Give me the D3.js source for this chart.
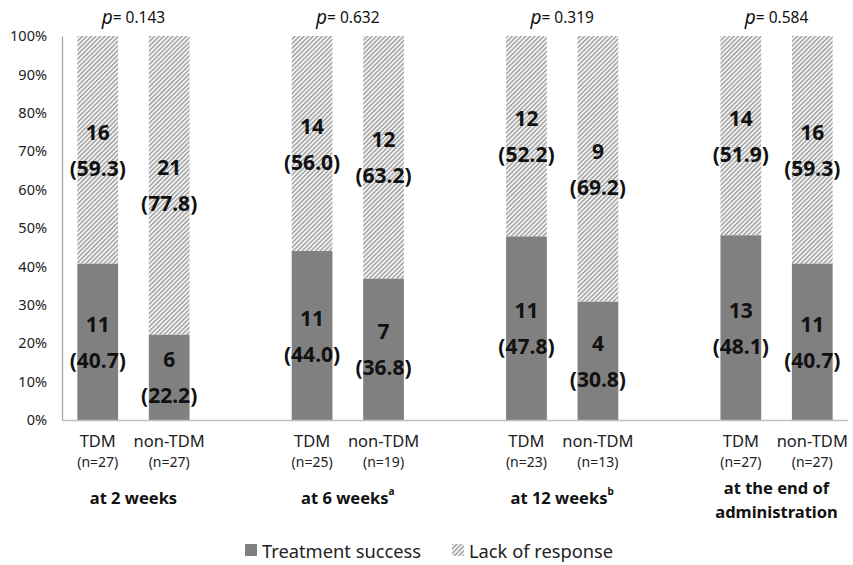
<!DOCTYPE html>
<html>
<head>
<meta charset="utf-8">
<script src="https://cdn.jsdelivr.net/npm/d3@7"></script>
<style>
  body { margin: 0; background: #fff; }
  svg { display: block; font-family: "Noto Sans", "Open Sans", sans-serif; }
</style>
</head>
<body>
<svg id="chart" width="853" height="565"></svg>
<script>
// Timepoints and their footnote marks
const timepoints = ["at 2 weeks", "at 6 weeks", "at 12 weeks", "at the end of administration"];
const timepointSup = ["", "a", "b", ""];
const pValues = ["0.143", "0.632", "0.319", "0.584"];
const arms = ["TDM", "non-TDM"];

// Per timepoint, per arm: [TDM, non-TDM]
const groupSizes = [[27, 27], [25, 19], [23, 13], [27, 27]];
const successCounts = [[11, 6], [11, 7], [11, 4], [13, 11]];
const successPct = [[40.7, 22.2], [44.0, 36.8], [47.8, 30.8], [48.1, 40.7]];
const lackCounts = [[16, 21], [14, 12], [12, 9], [14, 16]];
const lackPct = [[59.3, 77.8], [56.0, 63.2], [52.2, 69.2], [51.9, 59.3]];

const yTicks = [0, 0.1, 0.2, 0.3, 0.4, 0.5, 0.6, 0.7, 0.8, 0.9, 1.0];

const svg = d3.select("#chart");
const plotLeft = 62, plotRight = 848, plotTop = 36, plotBottom = 420;

// Diagonal hatch for "Lack of response"
const defs = svg.append("defs");
const pat = defs.append("pattern")
  .attr("id", "hatch")
  .attr("patternUnits", "userSpaceOnUse")
  .attr("width", 3.2).attr("height", 3.2)
  .attr("patternTransform", "rotate(45)");
pat.append("rect").attr("width", 3.2).attr("height", 3.2).attr("fill", "#f2f2f2");
pat.append("line").attr("x1", 0.6).attr("y1", 0).attr("x2", 0.6).attr("y2", 3.2)
  .attr("stroke", "#8c8c8c").attr("stroke-width", 1.1);

const x0 = d3.scaleBand().domain(timepoints).range([plotLeft, plotRight])
  .paddingInner(1 / 3).paddingOuter(0);
const x1 = d3.scaleBand().domain(arms).range([0, x0.bandwidth()])
  .paddingInner(0.43).paddingOuter(0.215);
const y = d3.scaleLinear().domain([0, 1]).range([plotBottom, plotTop]);

// Y axis
const yAxis = svg.append("g").attr("transform", `translate(${plotLeft},0)`)
  .call(d3.axisLeft(y).tickValues(yTicks).tickFormat(d3.format(".0%")).tickSize(0).tickPadding(15));
yAxis.select(".domain").attr("stroke", "#a6a6a6").attr("stroke-width", 1.3);
yAxis.selectAll("text").attr("font-size", 14.5).attr("fill", "#222")
  .attr("font-family", "'Noto Sans', sans-serif");

// Build bar records
const rows = [];
timepoints.forEach((t, i) => {
  arms.forEach((a, j) => {
    rows.push({
      t, a, i, j,
      s: successPct[i][j] / 100,
      sc: successCounts[i][j], sp: successPct[i][j],
      lc: lackCounts[i][j], lp: lackPct[i][j],
      n: groupSizes[i][j]
    });
  });
});

const bx = d => x0(d.t) + x1(d.a);
const bw = x1.bandwidth();

// Lack of response segments (top)
svg.append("g").selectAll("rect").data(rows).join("rect")
  .attr("x", bx).attr("width", bw)
  .attr("y", y(1)).attr("height", d => y(d.s) - y(1))
  .attr("fill", "url(#hatch)");

// Treatment success segments (bottom)
svg.append("g").selectAll("rect").data(rows).join("rect")
  .attr("x", bx).attr("width", bw)
  .attr("y", d => y(d.s)).attr("height", d => y(0) - y(d.s))
  .attr("fill", "#808080");

// Bottom baseline
svg.append("line").attr("x1", plotLeft).attr("x2", plotRight)
  .attr("y1", y(0) + 0.5).attr("y2", y(0) + 0.5)
  .attr("stroke", "#bfbfbf").attr("stroke-width", 1.3);

// Segment labels: count and percent
const labels = svg.append("g");
rows.forEach(d => {
  const cx = bx(d) + bw / 2;
  const segs = [
    { mid: (y(0) + y(d.s)) / 2, c: d.sc, p: d.sp },
    { mid: (y(d.s) + y(1)) / 2, c: d.lc, p: d.lp }
  ];
  segs.forEach(s => {
    labels.append("text").attr("x", cx).attr("y", s.mid - 18)
      .attr("text-anchor", "middle").attr("dominant-baseline", "central")
      .attr("font-size", 21).attr("font-weight", "bold").attr("fill", "#111")
      .text(s.c);
    labels.append("text").attr("x", cx).attr("y", s.mid + 18)
      .attr("text-anchor", "middle").attr("dominant-baseline", "central")
      .attr("font-size", 21).attr("font-weight", "bold").attr("fill", "#111")
      .text(`(${s.p.toFixed(1)})`);
  });
});

// Arm labels below the axis
const armG = svg.append("g");
rows.forEach(d => {
  const cx = bx(d) + bw / 2;
  armG.append("text").attr("x", cx).attr("y", 440)
    .attr("text-anchor", "middle").attr("dominant-baseline", "central")
    .attr("font-size", 16.5).attr("fill", "#222").text(d.a);
  armG.append("text").attr("x", cx).attr("y", 461)
    .attr("text-anchor", "middle").attr("dominant-baseline", "central")
    .attr("font-size", 14).attr("fill", "#222").text(`(n=${d.n})`);
});

// Timepoint labels and p-values
timepoints.forEach((t, i) => {
  const cx = x0(t) + x0.bandwidth() / 2;
  if (i === 3) {
    ["at the end of", "administration"].forEach((line, k) => {
      svg.append("text").attr("x", cx).attr("y", 487 + k * 24)
        .attr("text-anchor", "middle").attr("dominant-baseline", "central")
        .attr("font-size", 16.5).attr("font-weight", "bold").attr("fill", "#111")
        .text(line);
    });
  } else {
    const tx = svg.append("text").attr("x", cx).attr("y", 497)
      .attr("text-anchor", "middle").attr("dominant-baseline", "central")
      .attr("font-size", 16.5).attr("font-weight", "bold").attr("fill", "#111");
    tx.append("tspan").text(t);
    if (timepointSup[i]) {
      tx.append("tspan").attr("font-size", 10).attr("dy", -6).text(timepointSup[i]);
    }
  }
  const pt = svg.append("text").attr("x", cx).attr("y", 17)
    .attr("text-anchor", "middle").attr("dominant-baseline", "central")
    .attr("fill", "#111");
  pt.append("tspan").attr("font-style", "italic").attr("font-size", 19).text("p");
  pt.append("tspan").attr("font-size", 15.5).text("= " + pValues[i]);
});

// Legend
const legend = svg.append("g");
const legendItems = [
  { label: "Treatment success", fill: "#808080", x: 245 },
  { label: "Lack of response", fill: "url(#hatch)", x: 452 }
];
legendItems.forEach(it => {
  legend.append("rect").attr("x", it.x).attr("y", 544).attr("width", 12).attr("height", 12)
    .attr("fill", it.fill);
  legend.append("text").attr("x", it.x + 17).attr("y", 550)
    .attr("dominant-baseline", "central").attr("font-size", 18.3).attr("fill", "#222")
    .text(it.label);
});
</script>
</body>
</html>
